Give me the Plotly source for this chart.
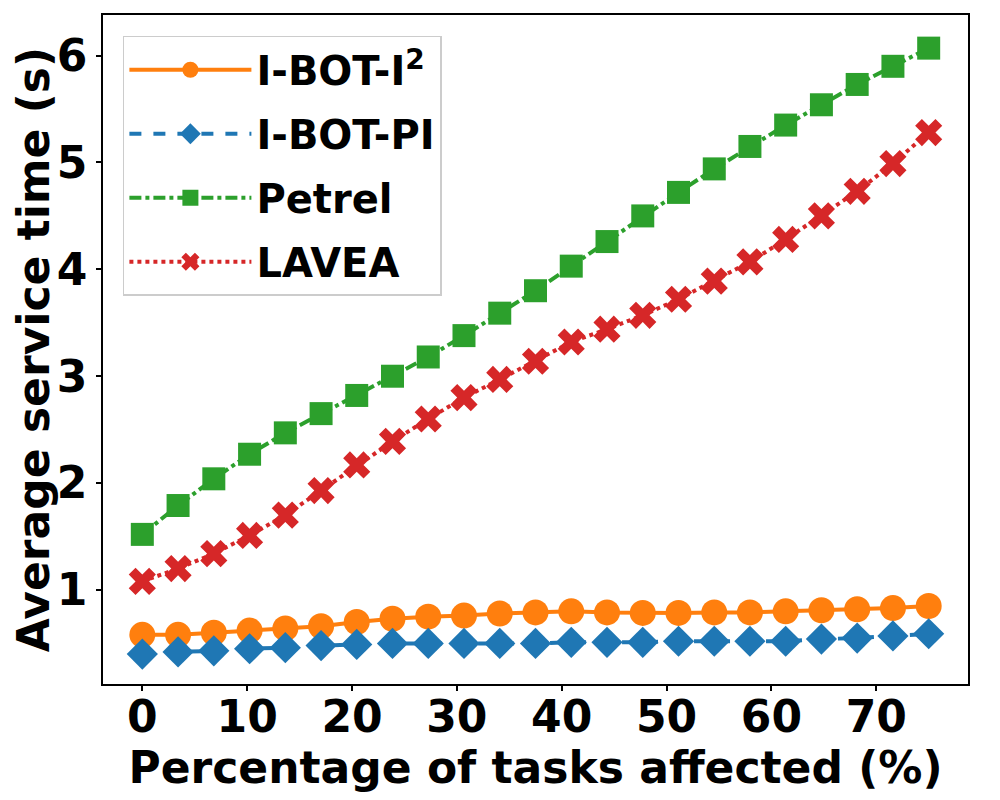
import plotly.graph_objects as go

x_pct = [0, 3.41, 6.82, 10.23, 13.64, 17.05, 20.45, 23.86, 27.27, 30.68, 34.09,
         37.5, 40.91, 44.32, 47.73, 51.14, 54.55, 57.95, 61.36, 64.77, 68.18,
         71.59, 75]

ibot_i2 = [0.58, 0.58, 0.60, 0.62, 0.64, 0.66, 0.70, 0.73, 0.75, 0.76, 0.78,
           0.79, 0.80, 0.79, 0.785, 0.785, 0.79, 0.79, 0.80, 0.81, 0.82,
           0.83, 0.85]
ibot_pi = [0.40, 0.42, 0.43, 0.45, 0.46, 0.48, 0.49, 0.50, 0.50, 0.50, 0.50,
           0.50, 0.51, 0.51, 0.51, 0.52, 0.52, 0.52, 0.52, 0.54, 0.55,
           0.57, 0.59]
petrel = [1.52, 1.79, 2.04, 2.27, 2.47, 2.65, 2.82, 3.00, 3.18, 3.38, 3.59,
          3.80, 4.03, 4.26, 4.50, 4.72, 4.94, 5.15, 5.35, 5.54, 5.73,
          5.90, 6.07]
lavea = [1.08, 1.20, 1.34, 1.51, 1.70, 1.93, 2.17, 2.39, 2.60, 2.80, 2.97,
         3.14, 3.32, 3.44, 3.57, 3.72, 3.89, 4.07, 4.28, 4.50, 4.73,
         4.99, 5.28]

x_ticks = [0, 10, 20, 30, 40, 50, 60, 70]
y_ticks = [1, 2, 3, 4, 5, 6]

font = dict(family="DejaVu Sans", color="black", weight="bold")

series = [
    ("I-BOT-I<sup>2</sup>", ibot_i2, "#ff7f0e", "solid", "circle", 26),
    ("I-BOT-PI", ibot_pi, "#1f77b4", "dash", "diamond", 24),
    ("Petrel", petrel, "#2ca02c", "dashdot", "square", 23),
    ("LAVEA", lavea, "#d62728", "dot", "x", 24),
]

fig = go.Figure()
for i, (name, vals, color, dash, sym, size) in enumerate(series):
    fig.add_trace(go.Scatter(
        x=x_pct, y=vals, name=name, mode="lines+markers",
        legendgroup=str(i),
        line=dict(color=color, width=4, dash=dash),
        marker=dict(color=color, symbol=sym, size=size, line=dict(width=0)),
    ))

axis_common = dict(showline=True, linecolor="black", linewidth=1.5, mirror=True,
                   ticks="outside", ticklen=5, tickwidth=1.5, tickcolor="black",
                   showgrid=False, zeroline=False, automargin=False,
                   tickfont=dict(size=44, **font))

# page body has an ~8px margin, so the figure is a bit smaller than the window
fig.update_layout(
    width=992, height=792,
    margin=dict(l=95, r=32, t=7, b=116),
    plot_bgcolor="white", paper_bgcolor="white",
    font=font,
    xaxis=dict(range=[-3.75, 78.75], tickvals=x_ticks, ticklabelstandoff=-12,
               title=dict(text="Percentage of tasks affected (%)",
                          font=dict(size=44, **font), standoff=0),
               **axis_common),
    yaxis=dict(range=[0.12, 6.38], tickvals=y_ticks,
               title=dict(text="Average service time (s)",
                          font=dict(size=44, **font), standoff=14),
               **axis_common),
    legend=dict(x=0.023, y=0.969, xanchor="left", yanchor="top",
                bgcolor="white", bordercolor="#cccccc", borderwidth=1.5,
                font=dict(size=40, **font), tracegroupgap=9,
                itemwidth=122),
    showlegend=True,
)

fig.write_html("out.html")
